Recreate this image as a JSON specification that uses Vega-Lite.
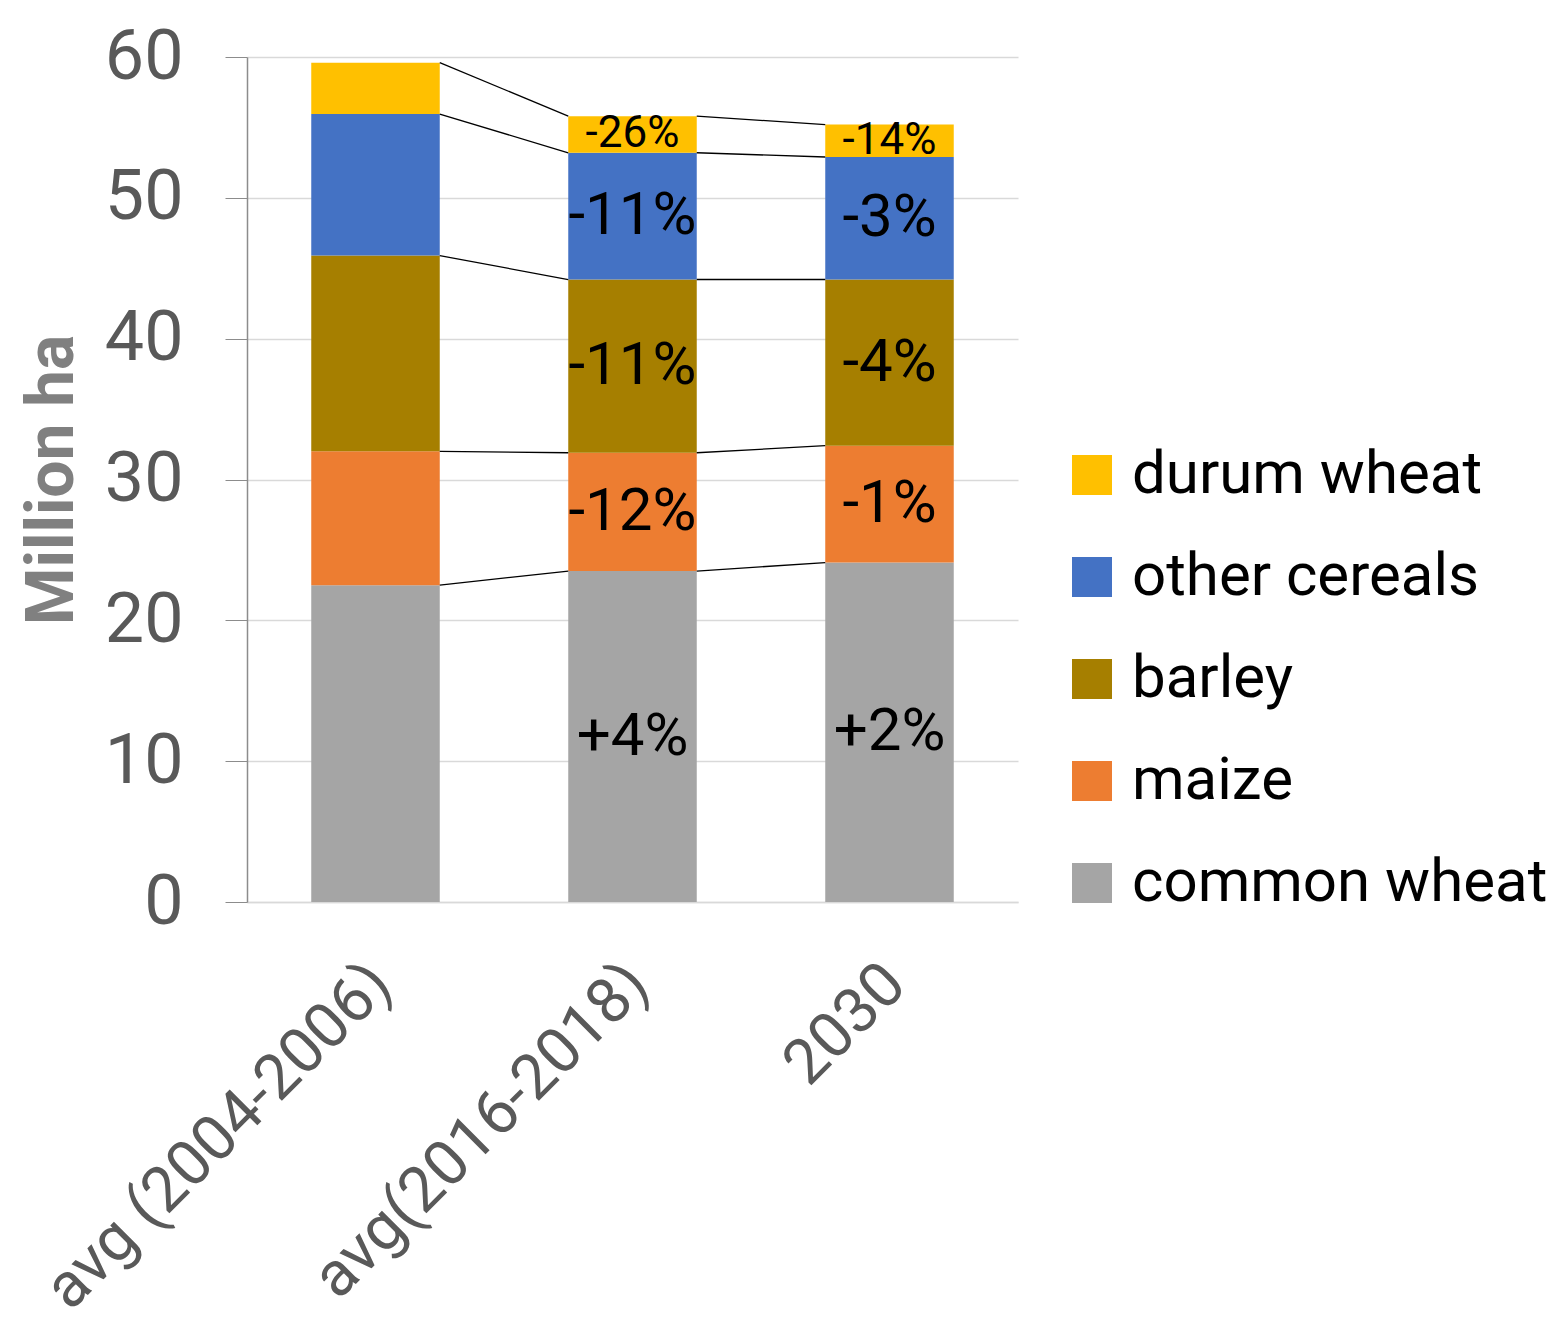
{
  "$schema": "https://vega.github.io/schema/vega-lite/v6.json",
  "width": 771,
  "height": 845,
  "autosize": {"type": "none"},
  "padding": {"left": 247, "top": 57, "right": 542, "bottom": 415},
  "background": "white",
  "config": {
    "font": "Roboto",
    "view": {"stroke": null}
  },
  "data": {
    "values": [
      {"period": "avg (2004-2006)", "crop": "common wheat", "area": 22.5, "pct": null},
      {"period": "avg (2004-2006)", "crop": "maize", "area": 9.5, "pct": null},
      {"period": "avg (2004-2006)", "crop": "barley", "area": 13.9, "pct": null},
      {"period": "avg (2004-2006)", "crop": "other cereals", "area": 10.05, "pct": null},
      {"period": "avg (2004-2006)", "crop": "durum wheat", "area": 3.65, "pct": null},
      {"period": "avg(2016-2018)", "crop": "common wheat", "area": 23.5, "pct": "+4%"},
      {"period": "avg(2016-2018)", "crop": "maize", "area": 8.4, "pct": "-12%"},
      {"period": "avg(2016-2018)", "crop": "barley", "area": 12.3, "pct": "-11%"},
      {"period": "avg(2016-2018)", "crop": "other cereals", "area": 9.0, "pct": "-11%"},
      {"period": "avg(2016-2018)", "crop": "durum wheat", "area": 2.6, "pct": "-26%"},
      {"period": "2030", "crop": "common wheat", "area": 24.1, "pct": "+2%"},
      {"period": "2030", "crop": "maize", "area": 8.3, "pct": "-1%"},
      {"period": "2030", "crop": "barley", "area": 11.8, "pct": "-4%"},
      {"period": "2030", "crop": "other cereals", "area": 8.7, "pct": "-3%"},
      {"period": "2030", "crop": "durum wheat", "area": 2.3, "pct": "-14%"}
    ]
  },
  "transform": [
    {"calculate": "indexof(['common wheat','maize','barley','other cereals','durum wheat'], datum.crop)", "as": "k"},
    {"calculate": "indexof(['avg (2004-2006)','avg(2016-2018)','2030'], datum.period)", "as": "pi"}
  ],
  "encoding": {
    "x": {
      "field": "period",
      "type": "nominal",
      "scale": {"domain": ["avg (2004-2006)", "avg(2016-2018)", "2030"], "paddingInner": 0.5, "paddingOuter": 0.25},
      "axis": {
        "title": null,
        "labelAngle": -45,
        "labelFontSize": 63,
        "labelColor": "#595959",
        "labelPadding": 50,
        "labelOffset": -16,
        "labelLimit": 1000,
        "ticks": false,
        "domainColor": "#D9D9D9",
        "domainWidth": 1.5,
        "grid": false
      }
    }
  },
  "layer": [
    {
      "mark": {"type": "bar"},
      "encoding": {
        "y": {
          "field": "area",
          "type": "quantitative",
          "stack": "zero",
          "scale": {"domain": [0, 60], "nice": false},
          "axis": {
            "title": "Million ha",
            "titleFontSize": 66,
            "titleFontWeight": "bold",
            "titleColor": "#808080",
            "titlePadding": 18,
            "values": [0, 10, 20, 30, 40, 50, 60],
            "labelFontSize": 70,
            "labelColor": "#595959",
            "labelPadding": 42,
            "tickSize": 22,
            "tickColor": "#8C8C8C",
            "domainColor": "#8C8C8C",
            "domainWidth": 1.5,
            "gridColor": "#D9D9D9",
            "gridWidth": 1.5
          }
        },
        "color": {
          "field": "crop",
          "type": "nominal",
          "scale": {
            "domain": ["durum wheat", "other cereals", "barley", "maize", "common wheat"],
            "range": ["#FFC000", "#4472C4", "#A67F00", "#ED7D31", "#A5A5A5"]
          },
          "legend": {
            "title": null,
            "orient": "none",
            "legendX": 815,
            "legendY": 388,
            "symbolType": "square",
            "symbolSize": 1600,
            "symbolStrokeWidth": 0,
            "symbolOpacity": 1,
            "labelFontSize": 60,
            "labelColor": "#000000",
            "labelOffset": 10,
            "rowPadding": 42,
            "labelLimit": 600
          }
        },
        "order": {"field": "k", "type": "quantitative"}
      }
    },
    {
      "transform": [
        {"stack": "area", "groupby": ["period"], "sort": [{"field": "k"}], "as": ["s0", "s1"]},
        {"window": [{"op": "lead", "field": "s1", "as": "next_s1"}, {"op": "lead", "field": "period", "as": "next_period"}], "groupby": ["crop"], "sort": [{"field": "pi"}]},
        {"filter": "datum.next_period != null"}
      ],
      "mark": {"type": "rule", "color": "#000000", "strokeWidth": 1.3},
      "encoding": {
        "x": {"field": "period", "type": "nominal", "bandPosition": 1},
        "x2": {"field": "next_period", "bandPosition": 0},
        "y": {"field": "s1", "type": "quantitative"},
        "y2": {"field": "next_s1"}
      }
    },
    {
      "transform": [
        {"stack": "area", "groupby": ["period"], "sort": [{"field": "k"}], "as": ["s0", "s1"]},
        {"filter": "datum.pct != null && datum.crop != 'durum wheat'"},
        {"calculate": "(datum.s0 + datum.s1) / 2", "as": "mid"}
      ],
      "mark": {"type": "text", "fontSize": 60, "color": "#000000", "baseline": "middle", "align": "center"},
      "encoding": {
        "y": {"field": "mid", "type": "quantitative"},
        "text": {"field": "pct"}
      }
    },
    {
      "transform": [
        {"stack": "area", "groupby": ["period"], "sort": [{"field": "k"}], "as": ["s0", "s1"]},
        {"filter": "datum.pct != null && datum.crop == 'durum wheat'"},
        {"calculate": "(datum.s0 + datum.s1) / 2", "as": "mid"}
      ],
      "mark": {"type": "text", "fontSize": 44, "color": "#000000", "baseline": "middle", "align": "center"},
      "encoding": {
        "y": {"field": "mid", "type": "quantitative"},
        "text": {"field": "pct"}
      }
    }
  ]
}
